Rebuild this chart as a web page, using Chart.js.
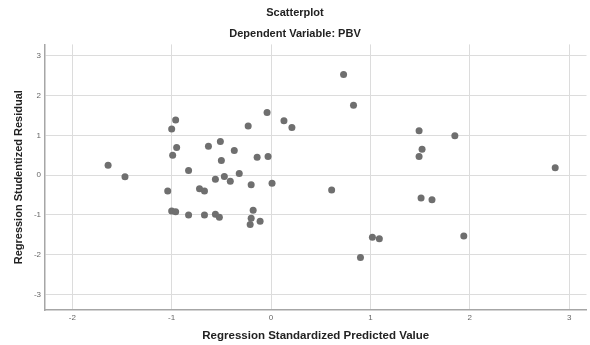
<!DOCTYPE html>
<html>
<head>
<meta charset="utf-8">
<title>Scatterplot</title>
<script src="https://cdn.jsdelivr.net/npm/chart.js@4"></script>
<style>
  html, body { margin: 0; padding: 0; background: #fff; }
  #wrap { width: 590px; height: 345px; position: relative; }
</style>
</head>
<body>
<div id="wrap"><canvas id="chart"></canvas></div>
<script>
// values
const predicted = [
  -1.64, -1.47, -0.96, -1.00, -0.95, -0.99, -0.83, -0.63, -0.51, -0.50,
  -0.37, -0.56, -0.47, -0.41, -0.32, -1.04, -0.72, -0.67, -1.00, -0.96,
  -0.83, -0.67, -0.56, -0.52, 0.73, 0.83, -0.04, 0.13, 0.21, -0.23,
  -0.14, -0.03, -0.20, 0.01, 1.49, 1.52, 1.49, 0.61, -0.18, -0.20,
  -0.21, -0.11, 1.02, 1.09, 0.90, 1.51, 1.85, 2.86, 1.62, 1.94
];
const residual = [
  0.25, -0.04, 1.39, 1.16, 0.70, 0.50, 0.12, 0.73, 0.85, 0.37,
  0.62, -0.10, -0.03, -0.15, 0.04, -0.40, -0.34, -0.40, -0.90, -0.92,
  -1.00, -1.00, -0.98, -1.06, 2.53, 1.76, 1.58, 1.37, 1.20, 1.24,
  0.45, 0.47, -0.24, -0.20, 1.12, 0.65, 0.47, -0.37, -0.88, -1.08,
  -1.24, -1.16, -1.56, -1.60, -2.07, -0.57, 0.99, 0.19, -0.62, -1.53
];
const xTicks = [-2, -1, 0, 1, 2, 3];
const yTicks = [-3, -2, -1, 0, 1, 2, 3];

const points = predicted.map((x, i) => ({ x: x, y: residual[i] }));

const font = 'Arial, "Liberation Sans", sans-serif';

new Chart(document.getElementById('chart').getContext('2d'), {
  type: 'scatter',
  data: {
    datasets: [{
      label: 'PBV',
      data: points,
      backgroundColor: '#6f6f6f',
      borderWidth: 0,
      pointRadius: 3.5,
      pointHoverRadius: 3.5
    }]
  },
  options: {
    responsive: true,
    maintainAspectRatio: false,
    animation: false,
    layout: { padding: 0 },
    scales: {
      x: {
        type: 'linear',
        min: -2.275,
        max: 3.175,
        afterBuildTicks: s => { s.ticks = xTicks.map(v => ({ value: v })); },
        afterFit: s => { s.height = 35; },
        grid: { color: '#dcdcdc', drawTicks: false },
        border: { display: true, color: '#a6a6a6', width: 1.5 },
        ticks: { color: '#666', font: { family: font, size: 8 }, padding: 3 },
        title: {
          display: true,
          text: 'Regression Standardized Predicted Value',
          color: '#222',
          font: { family: font, size: 11.5, weight: 'bold' },
          padding: { top: 0, bottom: 2 }
        }
      },
      y: {
        type: 'linear',
        min: -3.39,
        max: 3.29,
        afterBuildTicks: s => { s.ticks = yTicks.map(v => ({ value: v })); },
        afterFit: s => { s.width = 45; },
        grid: { color: '#dcdcdc', drawTicks: false },
        border: { display: true, color: '#a6a6a6', width: 1.5 },
        ticks: { color: '#666', font: { family: font, size: 8 }, padding: 4 },
        title: {
          display: true,
          text: 'Regression Studentized Residual',
          color: '#222',
          font: { family: font, size: 11, weight: 'bold' },
          padding: { top: 12, bottom: 0 }
        }
      }
    },
    plugins: {
      legend: { display: false },
      tooltip: { enabled: false },
      title: {
        display: true,
        text: 'Scatterplot',
        color: '#222',
        font: { family: font, size: 11, weight: 'bold' },
        padding: { top: 6, bottom: 8 }
      },
      subtitle: {
        display: true,
        text: 'Dependent Variable: PBV',
        color: '#222',
        font: { family: font, size: 11, weight: 'bold' },
        padding: { top: 0, bottom: 4 }
      }
    }
  }
});
</script>
</body>
</html>
